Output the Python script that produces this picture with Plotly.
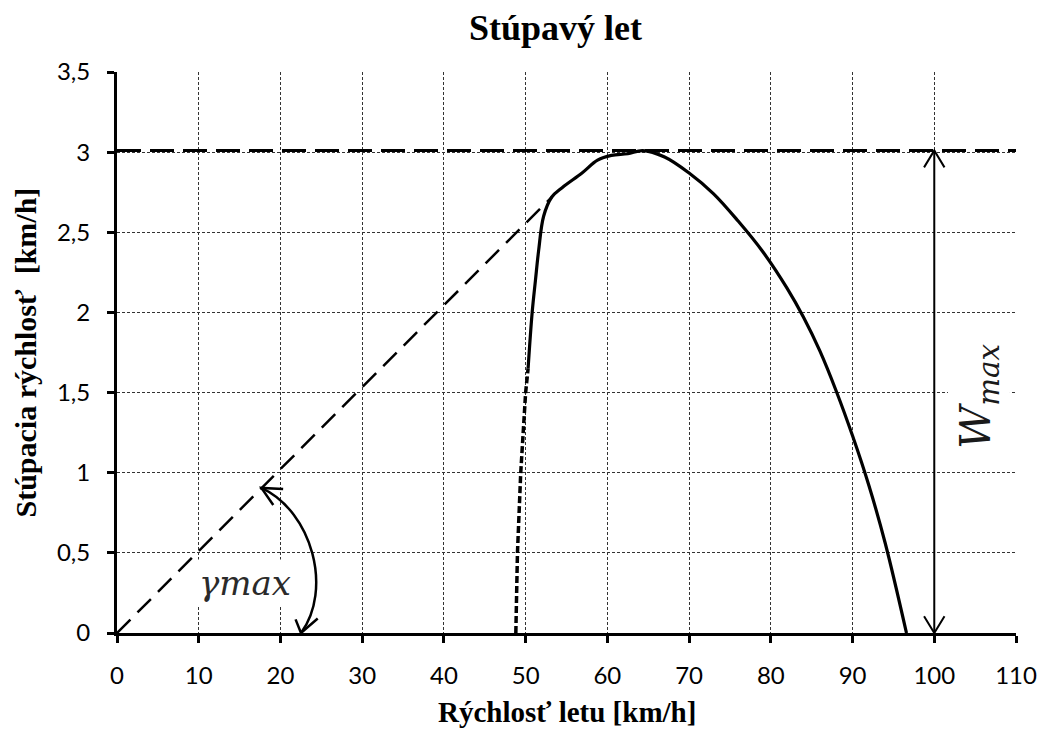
import plotly.graph_objects as go

# Climb-rate curve (km/h vs km/h)
speed_solid = [50.3, 50.8, 51.2, 51.6, 52.2, 53.2, 54.5, 56.9, 58.8, 60.5, 62.5, 64.3,
               67.0, 70.0, 73.0, 76.0, 79.0, 82.0, 84.0, 86.0, 88.0, 90.0, 92.0, 94.0, 96.6]
climb_solid = [1.65, 2.0, 2.2, 2.39, 2.6, 2.72, 2.78, 2.87, 2.95, 2.98, 2.99, 3.01,
               2.97, 2.87, 2.74, 2.57, 2.38, 2.15, 1.97, 1.76, 1.51, 1.23, 0.92, 0.56, 0.0]

# Extrapolated low-speed branch (dotted)
speed_dotted = [48.8, 49.0, 49.4, 50.0, 50.3]
climb_dotted = [0.0, 0.5, 1.0, 1.5, 1.65]

# Tangent from the origin and the maximum climb rate
tangent_x = [0.0, 53.2]
tangent_y = [0.0, 2.72]
W_MAX = 3.01
X_MAX = 110
W_ARROW_X = 100

x_ticks = list(range(0, 111, 10))
y_ticks = [0, 0.5, 1, 1.5, 2, 2.5, 3, 3.5]

fig = go.Figure()

fig.add_trace(go.Scatter(x=[0, X_MAX], y=[W_MAX, W_MAX], mode="lines",
                         line=dict(color="black", width=3, dash="24px,9px"),
                         hoverinfo="skip"))
fig.add_trace(go.Scatter(x=tangent_x, y=tangent_y, mode="lines",
                         line=dict(color="black", width=2.5, dash="19px,10px"),
                         hoverinfo="skip"))
fig.add_trace(go.Scatter(x=speed_dotted, y=climb_dotted, mode="lines",
                         line=dict(color="black", width=3.5, dash="7px,3px")))
fig.add_trace(go.Scatter(x=speed_solid, y=climb_solid, mode="lines",
                         line=dict(color="black", width=3.2, shape="spline", smoothing=1.0)))

# Angle arc with open arrowheads
arc = "M 17.67,0.905 C 23.96,0.755 26.38,0.268 22.51,0.0"
arc_head_top = "M 20.33,0.898 L 17.67,0.905 L 19.12,0.799"
arc_head_bottom = "M 21.85,0.085 L 22.51,0.0 L 24.56,0.09"

# Vertical double arrow for the maximum climb rate
w_line = f"M {W_ARROW_X},0 L {W_ARROW_X},{W_MAX}"
w_head_top = f"M {W_ARROW_X-1.25},{W_MAX-0.105} L {W_ARROW_X},{W_MAX} L {W_ARROW_X+1.25},{W_MAX-0.105}"
w_head_bottom = f"M {W_ARROW_X-1.25},0.105 L {W_ARROW_X},0 L {W_ARROW_X+1.25},0.105"

shapes = []
for p, w in [(arc, 2.5), (arc_head_top, 2.5), (arc_head_bottom, 2.5),
             (w_line, 2), (w_head_top, 2), (w_head_bottom, 2)]:
    shapes.append(dict(type="path", path=p, xref="x", yref="y",
                       line=dict(color="black", width=w), layer="above"))

annotations = [
    dict(text="<b>Stúpavý let</b>", xref="paper", yref="paper",
         x=(560 - 117) / 909, y=1 + 44 / 561, xanchor="center", yanchor="middle",
         showarrow=False, font=dict(family="Liberation Serif", size=36, color="black")),
    dict(text="<b>Rýchlosť letu [km/h]</b>", xref="paper", yref="paper",
         x=0.5, y=-79 / 561, xanchor="center", yanchor="middle",
         showarrow=False, font=dict(family="Liberation Serif", size=29, color="black")),
    dict(text="<b>Stúpacia rýchlosť  [km/h]</b>", xref="paper", yref="paper",
         x=-93 / 909, y=0.5, xanchor="center", yanchor="middle", textangle=-90,
         showarrow=False, font=dict(family="Liberation Serif", size=30, color="black")),
    dict(text="<i>γmax</i>", xref="x", yref="y", x=15.7, y=0.31,
         xanchor="center", yanchor="middle", showarrow=False,
         bgcolor="white", borderpad=3,
         font=dict(family="DejaVu Serif", size=34, color="#2a2a2a")),
    dict(text="<i>W<sub>max</sub></i>", xref="x", yref="y", x=105.5, y=1.48,
         xanchor="center", yanchor="middle", showarrow=False, textangle=-90,
         bgcolor="white", borderpad=3,
         font=dict(family="DejaVu Serif", size=42, color="#1a1a1a")),
]

axis_common = dict(
    showline=True, linecolor="black", linewidth=3, mirror=False,
    ticks="outside", ticklen=7, tickwidth=3, tickcolor="black",
    showgrid=True, gridcolor="#333", gridwidth=1, griddash="3px,2px",
    zeroline=False, tickfont=dict(family="Lato", size=24, color="black"),
)

fig.update_layout(
    width=1049, height=734,
    margin=dict(l=117, r=23, t=72, b=101),
    paper_bgcolor="white", plot_bgcolor="white",
    showlegend=False, separators=", ",
    xaxis=dict(range=[0, X_MAX], tickvals=x_ticks, ticklabelstandoff=12, **axis_common),
    yaxis=dict(range=[0, 3.5], tickvals=y_ticks, ticklabelstandoff=12, **axis_common),
    shapes=shapes, annotations=annotations,
)

fig.write_html("out.html")
